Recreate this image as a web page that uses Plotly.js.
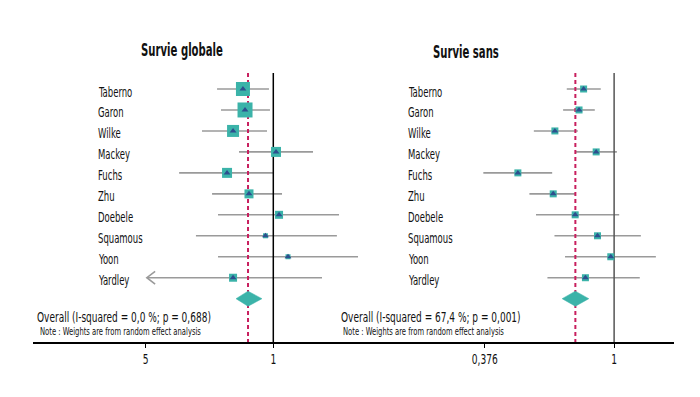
<!DOCTYPE html>
<html><head><meta charset="utf-8">
<script src="https://cdn.plot.ly/plotly-3.0.1.min.js"></script>
<style>html,body{margin:0;padding:0;background:#fff;}#chart{width:700px;height:397px;}</style>
</head><body><div id="chart"></div>
<script>
const studies = ["Taberno","Garon","Wilke","Mackey","Fuchs","Zhu","Doebele","Squamous","Yoon","Yardley"];

// Survie globale (left)
const osEst  = [0.682,0.700,0.602,1.035,0.558,0.736,1.075,0.906,1.204,0.602];
const osLo   = [0.492,0.517,0.407,0.649,0.305,0.462,0.498,0.377,0.498,0.203];
const osHi   = [0.947,0.959,0.924,1.650,0.996,1.116,2.290,2.230,2.910,1.848];
const osW    = [14,15,12,10,10,9,8,5,5,8];
const osOverall = {est:0.727, lo:0.625, hi:0.867};
const osArrowLeft = [false,false,false,false,false,false,false,false,false,true];

// Survie sans (right)
const pfsEst = [0.794,0.767,0.639,0.873,0.483,0.631,0.745,0.882,0.975,0.805];
const pfsLo  = [0.699,0.680,0.545,0.749,0.372,0.527,0.554,0.637,0.690,0.604];
const pfsHi  = [0.904,0.864,0.760,1.021,0.626,0.746,1.039,1.224,1.371,1.214];
const pfsW   = [7,7,7,7,7,7,7,7,7,7];
const pfsOverall = {est:0.746, lo:0.675, hi:0.826};

const titles = ["Survie globale","Survie sans"];
const overallText = ["Overall (I-squared = 0,0 %; p = 0,688)","Overall (I-squared = 67,4 %; p = 0,001)"];
const noteText = "Note : Weights are from random effect analysis";
const tickVals1 = [0.2,1], tickText1 = ["5","1"];
const tickVals2 = [0.376,1], tickText2 = ["0,376","1"];

const FONT = "Liberation Sans Narrow, DejaVu Sans Condensed, Arial Narrow, sans-serif";
const TEAL = "#3bb3a9", NAVY = "#2d4f8e", GREY = "#9a9a9a", RED = "#c81f5e";
const rows = studies.map((s,i)=>i);
const overallRow = studies.length;
const topRow = -0.76, axisRow = 12.065;

function panel(est, lo, hi, w, ov, xa, ya, refColor, arrows){
  const tr = [];
  const lx=[], ly=[];
  est.forEach((e,i)=>{ lx.push(lo[i],hi[i],null); ly.push(i,i,null); });
  tr.push({x:lx,y:ly,xaxis:xa,yaxis:ya,mode:"lines",line:{color:GREY,width:1.6},hoverinfo:"skip"});
  if(arrows){
    const ax=[], ay=[];
    arrows.forEach((a,i)=>{ if(a){ ax.push(lo[i]*1.11,lo[i],lo[i]*1.11,null); ay.push(i-0.3,i,i+0.3,null);} });
    tr.push({x:ax,y:ay,xaxis:xa,yaxis:ya,mode:"lines",line:{color:GREY,width:1.6},hoverinfo:"skip"});
  }
  tr.push({x:[1,1],y:[topRow,axisRow],xaxis:xa,yaxis:ya,mode:"lines",line:{color:refColor,width:1.5},hoverinfo:"skip"});
  tr.push({x:[ov.est,ov.est],y:[topRow,axisRow],xaxis:xa,yaxis:ya,mode:"lines",line:{color:RED,width:2,dash:"4px,3px"},hoverinfo:"skip"});
  tr.push({x:est,y:rows,xaxis:xa,yaxis:ya,mode:"markers",marker:{symbol:"square",size:w,color:TEAL,opacity:1,line:{width:0}},hoverinfo:"skip"});
  tr.push({x:est,y:rows,xaxis:xa,yaxis:ya,mode:"markers",marker:{symbol:"triangle-up",size:6,color:NAVY,opacity:1,line:{width:0}},hoverinfo:"skip"});
  tr.push({x:[ov.lo,ov.est,ov.hi,ov.est,ov.lo],y:[overallRow,overallRow-0.36,overallRow,overallRow+0.36,overallRow],
    xaxis:xa,yaxis:ya,mode:"lines",fill:"toself",fillcolor:TEAL,line:{color:TEAL,width:0.5},hoverinfo:"skip"});
  return tr;
}

const data = [].concat(
  panel(osEst,osLo,osHi,osW,osOverall,"x","y","#000000",osArrowLeft),
  panel(pfsEst,pfsLo,pfsHi,pfsW,pfsOverall,"x2","y2","#555555",null)
);

const yr = [axisRow, -4.244];
const ydom = [1-342/397, 1];
const xcommon = {type:"log",showgrid:false,zeroline:false,showline:true,linecolor:"#000",linewidth:1.5,
  ticks:"outside",ticklen:4,tickwidth:1.2,tickcolor:"#000",tickfont:{family:FONT,size:14,color:"#111"},fixedrange:true};

const ann = [], squeeze = [];
function addText(xref,yref,x,y,text,size,xanchor,k,weight){
  ann.push({xref:xref,yref:yref,x:x,y:y,text:text,showarrow:false,xanchor:xanchor,align:xanchor==="left"?"left":"center",
    yanchor:"middle",font:{family:FONT,size:size,color:"#111",weight:weight||"normal"}});
  squeeze.push(k);
}
studies.forEach((s,i)=>{
  addText("paper","y",96/700,i+0.12,s,14.5,"left",0.65);
  addText("paper","y2",406/700,i+0.12,s,14.5,"left",0.65);
});
addText("paper","paper",182/700,1-50/397,titles[0],17,"center",0.66,"bold");
addText("paper","paper",466/700,1-52/397,titles[1],17,"center",0.66,"bold");
addText("paper","y",35/700,10.85,overallText[0],14.5,"left",0.69);
addText("paper","y",38/700,11.55,noteText,10.5,"left",0.72);
addText("paper","y",339/700,10.85,overallText[1],14.5,"left",0.69);
addText("paper","y",341/700,11.55,noteText,10.5,"left",0.72);

const layout = {
  width:700,height:397,margin:{l:0,r:0,t:0,b:0},paper_bgcolor:"#fff",plot_bgcolor:"rgba(0,0,0,0)",
  showlegend:false,
  xaxis:Object.assign({},xcommon,{domain:[33/700,360/700],range:[-1.316,0.4748],tickvals:tickVals1,ticktext:tickText1,anchor:"y"}),
  xaxis2:Object.assign({},xcommon,{domain:[360/700,674/700],range:[-0.8344,0.1966],tickvals:tickVals2,ticktext:tickText2,anchor:"y2"}),
  yaxis:{domain:ydom,range:yr,visible:false,fixedrange:true},
  yaxis2:{domain:ydom,range:yr,visible:false,fixedrange:true,anchor:"x2"},
  annotations:ann
};
function condense(t,k){
  const L = t.getComputedTextLength();
  if(L>0){ t.setAttribute("textLength",(L*k).toFixed(1)); t.setAttribute("lengthAdjust","spacingAndGlyphs"); }
}
Plotly.newPlot("chart",data,layout,{displayModeBar:false,staticPlot:true}).then(gd=>{
  // condense text horizontally to mimic the narrow typeface of the original
  gd.querySelectorAll(".annotation").forEach((a,i)=>{
    const t = a.querySelector(".annotation-text"); if(t) condense(t, squeeze[i]);
  });
  gd.querySelectorAll(".xtick text, .x2tick text").forEach(t=>condense(t,0.72));
});
</script></body></html>
